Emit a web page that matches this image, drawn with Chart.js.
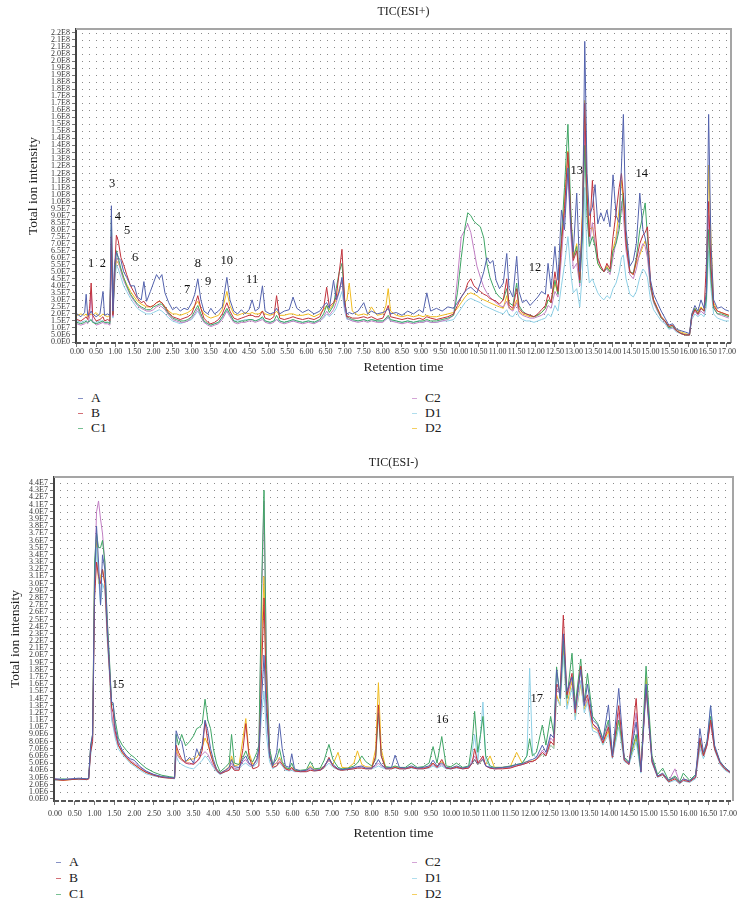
<!DOCTYPE html>
<html>
<head>
<meta charset="utf-8">
<script src="https://cdn.jsdelivr.net/npm/chart.js@4.4.0/dist/chart.umd.min.js"></script>
<style>
  body { margin: 0; background: #fff; width: 748px; height: 908px; position: relative; overflow: hidden;
         font-family: "Liberation Serif", "Times New Roman", serif; color: #222; }
  .panel { position: absolute; left: 0; width: 748px; }
  #topWrap { top: 0; height: 380px; }
  #botWrap { top: 445px; height: 400px; }
  .item { position: absolute; height: 16px; line-height: 16px; font-size: 13.5px; display: flex; align-items: center; white-space: nowrap; }
  .mark { display: inline-block; width: 5px; height: 1px; margin-right: 8px; opacity: 0.7; }
</style>
</head>
<body>
<div class="panel" id="topWrap"><canvas id="topChart"></canvas></div>
<div class="panel" id="botWrap"><canvas id="botChart"></canvas></div>
<script>
// sample names and colours
var seriesNames = ['A', 'B', 'C1', 'C2', 'D1', 'D2'];
var seriesColors = ['#5362ad', '#c1323c', '#3fa565', '#c27fc4', '#8fd0e6', '#f0bb1e'];

// x ticks (retention time, min)
var xTickLabels = ['0.00','0.50','1.00','1.50','2.00','2.50','3.00','3.50','4.00','4.50','5.00','5.50','6.00','6.50',
  '7.00','7.50','8.00','8.50','9.00','9.50','10.00','10.50','11.00','11.50','12.00','12.50','13.00','13.50',
  '14.00','14.50','15.00','15.50','16.00','16.50','17.00'];

// y ticks, TIC(ESI+) in units of 1E7, step 0.5
var yTopLabels = ['0.0E0','5.0E6','1.0E7','1.5E7','2.0E7','2.5E7','3.0E7','3.5E7','4.0E7','4.5E7','5.0E7','5.5E7',
  '6.0E7','6.5E7','7.0E7','7.5E7','8.0E7','8.5E7','9.0E7','9.5E7','1.0E8','1.0E8','1.1E8','1.1E8','1.2E8','1.2E8',
  '1.3E8','1.3E8','1.4E8','1.4E8','1.5E8','1.5E8','1.6E8','1.6E8','1.7E8','1.7E8','1.8E8','1.8E8','1.9E8','1.9E8',
  '2.0E8','2.0E8','2.1E8','2.1E8','2.2E8'];
// y ticks, TIC(ESI-) in units of 1E6, step 1
var yBotLabels = ['0.0E0','1.0E6','2.0E6','3.0E6','4.0E6','5.0E6','6.0E6','7.0E6','8.0E6','9.0E6','1.0E7','1.1E7',
  '1.2E7','1.3E7','1.4E7','1.5E7','1.6E7','1.7E7','1.8E7','1.9E7','2.0E7','2.1E7','2.2E7','2.3E7','2.4E7','2.5E7',
  '2.6E7','2.7E7','2.8E7','2.9E7','3.0E7','3.1E7','3.2E7','3.3E7','3.4E7','3.5E7','3.6E7','3.7E7','3.8E7','3.9E7',
  '4.0E7','4.1E7','4.2E7','4.3E7','4.4E7'];

// ---- TIC(ESI+) : intensity x1E7 ----
var topTimes = [
  0.00,0.10,0.20,0.24,0.28,0.33,0.37,0.41,0.50,0.60,
  0.68,0.72,0.80,0.86,0.90,0.94,0.98,1.03,1.08,1.15,
  1.22,1.30,1.40,1.50,1.58,1.68,1.75,1.82,1.92,2.00,
  2.08,2.15,2.22,2.30,2.40,2.50,2.60,2.70,2.80,2.90,
  3.00,3.08,3.16,3.24,3.32,3.42,3.50,3.60,3.70,3.80,
  3.92,4.00,4.10,4.20,4.30,4.40,4.50,4.58,4.66,4.76,
  4.85,4.92,5.05,5.15,5.22,5.30,5.42,5.55,5.65,5.75,
  5.90,6.05,6.20,6.35,6.45,6.53,6.60,6.71,6.78,6.86,
  6.93,7.00,7.06,7.12,7.20,7.35,7.50,7.60,7.70,7.85,
  8.00,8.08,8.14,8.20,8.35,8.50,8.65,8.80,8.95,9.05,
  9.15,9.25,9.40,9.55,9.70,9.85,9.95,10.05,10.15,10.22,
  10.30,10.38,10.46,10.55,10.64,10.72,10.80,10.88,10.96,11.05,
  11.15,11.24,11.30,11.40,11.50,11.56,11.65,11.75,11.85,11.95,
  12.05,12.15,12.25,12.32,12.40,12.50,12.58,12.67,12.75,12.84,
  12.92,12.98,13.07,13.15,13.22,13.28,13.34,13.40,13.48,13.55,
  13.62,13.70,13.78,13.86,13.94,14.02,14.10,14.18,14.24,14.29,
  14.36,14.46,14.55,14.63,14.72,14.80,14.86,14.92,15.00,15.08,
  15.18,15.28,15.38,15.48,15.58,15.68,15.80,15.92,16.02,16.08,
  16.16,16.24,16.32,16.40,16.46,16.52,16.58,16.65,16.75,16.85,
  16.95,17.05];
var topA = [
  2.0,1.8,2.1,3.4,1.9,2.0,2.2,2.0,1.8,2.0,
  3.6,1.9,2.0,1.9,9.7,2.2,5.5,6.4,6.0,5.8,
  5.0,4.6,4.0,4.0,3.2,3.0,4.3,2.9,3.6,4.2,
  4.8,4.5,4.8,3.5,2.8,2.3,2.5,2.2,2.4,2.3,
  2.8,3.4,4.5,3.0,2.2,2.0,2.4,2.0,2.2,2.5,
  4.6,3.0,2.2,2.0,2.3,2.0,2.3,3.0,2.2,2.4,
  4.0,2.2,2.0,2.1,2.4,2.0,2.2,2.3,3.2,2.4,
  2.1,2.3,2.0,2.2,2.6,2.8,2.4,4.4,3.0,3.6,
  4.6,2.6,2.0,2.1,2.0,2.2,2.8,2.0,2.2,2.0,
  2.1,2.2,2.4,2.0,2.1,1.9,2.2,2.0,2.3,2.1,
  3.5,2.2,2.4,2.2,2.5,2.4,2.8,3.2,3.6,3.8,
  3.9,3.7,3.5,4.2,5.0,6.0,5.6,5.8,4.4,3.8,
  4.2,6.3,3.8,3.2,6.1,3.6,2.8,3.0,2.6,2.9,
  3.2,3.6,3.4,5.6,3.8,6.8,4.4,9.4,8.0,12.4,
  8.0,6.4,10.6,5.0,8.0,21.4,12.0,9.0,9.6,11.2,
  8.4,9.2,8.6,9.4,8.2,11.9,9.0,8.5,12.5,16.2,
  8.0,5.4,5.8,7.0,10.6,8.0,7.4,6.5,4.4,3.4,
  2.8,2.2,1.7,1.2,1.3,0.9,0.8,0.7,0.6,2.0,
  2.6,2.2,3.0,2.4,3.5,16.2,7.0,3.0,2.4,2.5,
  2.3,2.2];
var topB = [
  1.6,1.5,1.7,1.8,1.6,2.4,4.2,1.9,1.5,1.6,
  1.8,1.5,1.6,1.5,7.5,1.9,5.0,7.6,7.2,6.0,
  5.5,4.8,4.0,3.5,3.1,2.8,2.9,2.6,2.5,2.6,
  2.8,2.9,2.8,2.5,2.1,1.8,1.7,1.6,1.7,1.8,
  2.0,2.6,3.3,2.4,1.7,1.4,1.3,1.4,1.6,2.0,
  2.8,2.2,1.7,1.6,1.7,1.8,1.9,1.9,1.8,1.8,
  2.2,1.7,1.6,1.8,3.3,1.7,1.6,1.7,1.8,1.7,
  1.6,1.7,1.6,1.8,2.4,3.9,2.5,2.8,3.2,5.0,
  6.6,3.0,1.8,1.8,1.7,1.7,1.8,1.7,1.8,1.6,
  1.7,2.2,2.6,1.8,1.7,1.6,1.7,1.6,1.7,1.6,
  1.8,1.7,1.6,1.7,1.8,2.0,2.6,3.2,3.6,4.2,
  4.5,4.0,3.8,3.6,3.4,3.3,3.1,3.0,2.9,2.7,
  3.0,4.5,2.6,2.4,3.8,2.4,2.1,2.0,1.9,1.8,
  2.0,2.3,2.6,3.4,2.8,5.0,3.6,7.0,9.5,13.5,
  8.5,5.8,6.5,4.4,9.0,17.0,10.5,7.5,11.5,8.0,
  6.0,5.4,5.0,5.6,5.2,7.5,9.2,11.0,12.0,10.5,
  7.0,5.0,4.8,5.8,7.0,7.6,7.8,8.2,4.2,3.0,
  2.4,1.8,1.5,1.1,1.2,0.8,0.6,0.5,0.5,1.8,
  2.3,2.0,2.4,2.2,5.5,10.0,5.5,2.6,2.2,2.1,
  2.0,1.9];
var topC1 = [
  1.4,1.3,1.4,1.5,1.4,1.5,1.6,1.4,1.3,1.4,
  1.5,1.4,1.4,1.3,8.8,2.0,4.5,6.5,6.0,5.2,
  4.6,4.0,3.4,3.0,2.7,2.5,2.4,2.3,2.3,2.5,
  2.6,2.7,2.7,2.4,2.0,1.7,1.6,1.5,1.5,1.6,
  1.8,2.2,2.6,2.0,1.5,1.3,1.2,1.3,1.4,1.8,
  2.4,2.0,1.5,1.4,1.5,1.5,1.6,1.6,1.5,1.6,
  1.8,1.5,1.4,1.5,1.9,1.5,1.4,1.5,1.6,1.5,
  1.4,1.5,1.4,1.6,2.0,2.6,2.1,2.6,3.8,5.0,
  5.6,3.0,1.8,1.7,1.6,1.5,1.6,1.5,1.6,1.5,
  1.5,1.7,1.9,1.6,1.5,1.4,1.5,1.4,1.5,1.5,
  1.6,1.5,1.5,1.6,1.7,1.9,3.5,6.0,8.2,9.2,
  9.0,8.6,8.4,8.2,7.4,5.6,4.6,4.0,3.5,3.2,
  3.0,3.8,2.8,2.6,4.2,2.6,2.2,2.0,1.9,1.8,
  1.9,2.1,2.4,3.0,2.8,4.4,3.4,7.5,11.0,15.5,
  9.0,6.0,6.8,4.2,7.5,14.0,9.0,6.8,7.5,6.8,
  5.6,5.2,5.0,5.3,5.0,6.5,7.0,8.0,9.5,10.6,
  7.5,5.0,4.9,6.0,8.0,9.0,9.9,7.5,4.0,2.9,
  2.3,1.7,1.5,1.0,1.1,0.8,0.6,0.5,0.5,1.9,
  2.4,2.0,2.4,2.2,3.0,8.0,4.5,2.4,2.0,2.0,
  1.9,1.8];
var topC2 = [
  1.3,1.2,1.3,1.4,1.3,1.8,3.6,1.5,1.2,1.3,
  1.4,1.3,1.3,1.2,6.5,1.8,4.2,6.0,5.8,5.0,
  4.4,3.9,3.3,2.9,2.6,2.4,2.3,2.2,2.2,2.3,
  2.5,2.6,2.5,2.3,1.9,1.6,1.5,1.4,1.4,1.5,
  1.7,2.0,2.4,1.8,1.4,1.2,1.1,1.2,1.3,1.6,
  2.2,1.8,1.4,1.3,1.4,1.4,1.5,1.5,1.4,1.5,
  1.6,1.4,1.3,1.4,1.6,1.4,1.3,1.4,1.5,1.4,
  1.3,1.4,1.3,1.5,1.8,2.2,1.9,2.3,2.8,3.6,
  4.4,2.4,1.7,1.6,1.5,1.4,1.5,1.4,1.5,1.4,
  1.4,1.6,1.8,1.5,1.4,1.3,1.4,1.3,1.4,1.4,
  1.5,1.4,1.4,1.5,1.6,1.9,4.5,7.5,8.0,8.4,
  7.8,6.6,5.4,4.6,3.9,3.5,3.2,3.0,2.8,2.6,
  2.5,2.9,2.4,2.2,2.8,2.1,1.9,1.8,1.7,1.7,
  1.8,1.9,2.1,2.6,2.4,3.6,3.2,6.0,9.0,12.0,
  7.5,5.2,5.6,4.0,8.0,15.0,9.5,7.0,8.5,7.0,
  5.8,5.4,5.0,5.2,4.8,6.0,7.2,8.5,10.0,9.0,
  6.5,4.8,4.5,5.2,6.4,7.0,6.8,6.0,3.8,2.8,
  2.2,1.7,1.4,1.0,1.0,0.8,0.6,0.5,0.5,1.8,
  2.2,1.9,2.2,2.0,3.2,9.0,5.0,2.5,2.0,1.9,
  1.8,1.7];
var topD1 = [
  1.5,1.4,1.5,1.5,1.4,1.5,1.6,1.4,1.4,1.5,
  1.5,1.4,1.4,1.4,6.0,1.7,4.0,5.5,5.2,4.6,
  4.0,3.6,3.1,2.7,2.4,2.2,2.1,2.0,2.0,2.1,
  2.2,2.3,2.2,2.0,1.7,1.5,1.4,1.3,1.4,1.5,
  1.6,1.9,2.2,1.8,1.4,1.3,1.2,1.3,1.4,1.7,
  2.3,1.9,1.5,1.5,1.5,1.6,1.6,1.6,1.5,1.6,
  1.7,1.5,1.4,1.5,1.6,1.5,1.4,1.5,1.5,1.5,
  1.4,1.5,1.4,1.5,1.7,2.0,1.8,2.1,2.4,3.0,
  3.6,2.2,1.6,1.6,1.5,1.5,1.6,1.5,1.6,1.5,
  1.5,1.6,1.7,1.5,1.5,1.4,1.5,1.4,1.5,1.4,
  1.5,1.4,1.4,1.5,1.5,1.6,2.0,2.4,2.8,3.0,
  3.1,3.0,2.9,2.8,2.6,2.5,2.4,2.3,2.2,2.1,
  2.0,2.3,1.9,1.8,2.2,1.8,1.6,1.5,1.5,1.4,
  1.5,1.6,1.7,2.0,1.8,2.6,2.2,4.0,5.5,7.5,
  4.8,3.5,3.8,2.5,5.0,11.0,6.0,4.2,4.5,4.0,
  3.5,3.2,3.0,3.3,3.1,3.8,4.2,5.0,6.0,6.2,
  4.5,3.4,3.2,3.6,4.6,5.2,5.0,4.6,3.0,2.3,
  1.9,1.5,1.3,0.9,1.0,0.7,0.6,0.5,0.5,1.6,
  2.0,1.8,2.0,1.8,2.5,6.5,3.8,2.0,1.7,1.6,
  1.5,1.5];
var topD2 = [
  1.9,2.0,1.9,2.0,1.8,1.9,2.0,1.9,2.1,1.8,
  2.0,1.9,1.8,1.9,6.5,2.3,4.8,5.8,5.6,5.2,
  4.6,4.1,3.6,3.2,2.9,2.7,2.6,2.5,2.5,2.6,
  2.8,2.9,2.8,2.5,2.2,2.0,2.0,1.9,2.0,2.1,
  2.3,2.6,2.9,2.4,2.0,1.8,1.7,1.8,1.9,2.3,
  3.6,2.6,2.0,1.9,2.0,2.1,2.0,2.1,2.0,2.0,
  2.2,2.0,1.9,2.0,2.2,1.9,1.9,2.0,2.0,1.9,
  1.9,2.0,1.8,2.0,2.3,2.6,2.3,2.7,3.0,3.8,
  4.4,2.8,3.0,4.2,2.2,1.9,2.0,1.9,2.5,1.9,
  2.0,2.6,3.8,2.2,1.9,1.8,1.9,1.8,1.9,1.8,
  1.9,1.8,1.8,1.9,2.0,2.1,2.4,2.8,3.2,3.4,
  3.5,3.4,3.3,3.1,3.0,2.9,2.8,2.7,2.6,2.5,
  2.4,3.3,2.4,2.3,3.0,2.2,2.0,1.9,1.8,1.8,
  1.9,2.1,2.4,3.0,2.8,4.2,3.4,7.0,10.0,13.6,
  8.8,6.0,7.0,4.5,9.5,17.2,11.0,8.0,8.2,7.0,
  5.6,5.2,5.0,5.4,5.0,6.6,7.5,9.5,11.5,10.0,
  7.0,5.0,4.8,5.6,6.2,6.8,7.2,6.4,4.0,3.0,
  2.4,1.8,1.5,1.1,1.2,0.9,0.7,0.6,0.5,2.0,
  2.4,2.1,2.5,2.2,3.5,12.6,7.5,2.8,2.2,2.1,
  2.0,1.9];

// ---- TIC(ESI-) : intensity x1E6 ----
var botTimes = [
  0.00,0.20,0.40,0.60,0.80,0.85,0.90,0.95,1.00,1.05,
  1.10,1.15,1.20,1.26,1.32,1.38,1.43,1.47,1.52,1.60,
  1.70,1.80,1.90,2.00,2.15,2.30,2.50,2.70,2.90,3.02,
  3.06,3.12,3.20,3.30,3.40,3.50,3.58,3.65,3.72,3.79,
  3.86,3.93,4.00,4.08,4.17,4.30,4.40,4.46,4.53,4.65,
  4.75,4.82,4.90,5.00,5.10,5.15,5.22,5.28,5.34,5.42,
  5.50,5.60,5.67,5.74,5.82,5.92,5.98,6.05,6.20,6.35,
  6.45,6.55,6.70,6.80,6.92,7.02,7.15,7.25,7.40,7.55,
  7.64,7.75,7.85,8.00,8.10,8.17,8.24,8.35,8.50,8.59,
  8.70,8.85,9.00,9.15,9.30,9.45,9.55,9.65,9.77,9.88,
  10.00,10.14,10.30,10.45,10.54,10.60,10.68,10.75,10.81,10.88,
  10.99,11.10,11.30,11.50,11.66,11.80,11.92,11.99,12.06,12.16,
  12.31,12.40,12.52,12.60,12.67,12.76,12.84,12.93,13.06,13.14,
  13.28,13.37,13.45,13.58,13.71,13.84,13.98,14.08,14.24,14.38,
  14.50,14.68,14.80,14.93,15.08,15.22,15.35,15.50,15.66,15.78,
  15.87,16.03,16.18,16.29,16.38,16.47,16.56,16.66,16.80,16.92,
  17.05];
var botA = [
  2.8,2.7,2.8,2.9,2.8,2.9,7.5,9.0,30.0,38.0,
  33.0,27.0,34.0,32.0,24.0,18.0,13.5,13.4,10.0,8.0,
  6.8,6.0,5.6,5.4,4.5,3.9,3.4,3.1,3.0,2.9,
  9.5,8.5,8.0,5.2,5.8,5.0,7.0,6.0,7.5,11.0,
  9.5,7.0,5.5,4.2,3.6,4.0,4.4,5.5,4.5,4.4,
  5.5,6.0,5.0,4.6,5.6,7.0,14.0,20.0,12.0,6.0,
  4.6,6.5,10.5,7.0,4.6,4.4,6.3,4.2,3.9,4.0,
  4.4,4.0,4.1,4.6,5.6,4.8,4.2,4.1,4.2,4.4,
  4.5,4.6,4.3,4.3,4.8,5.5,4.8,4.3,4.4,6.1,
  4.4,4.3,4.6,4.3,4.4,4.6,5.4,4.6,5.0,4.4,
  4.3,4.6,4.3,4.5,5.0,5.5,4.8,5.2,5.5,4.6,
  4.4,4.3,4.4,4.5,4.8,4.9,5.2,5.4,5.5,5.8,
  7.5,6.5,9.0,8.5,18.0,14.0,23.0,15.0,17.0,12.5,
  18.0,13.0,16.0,11.0,10.3,8.2,13.1,6.0,15.4,5.6,
  5.0,10.7,3.8,16.0,5.5,3.2,3.6,2.6,3.0,2.3,
  2.8,2.5,3.2,9.8,6.5,8.0,13.0,7.5,5.2,4.4,
  3.8];
var botB = [
  2.7,2.6,2.7,2.8,2.7,2.8,6.5,8.0,28.0,33.0,
  31.0,30.0,32.0,30.0,23.0,17.5,12.8,12.0,9.5,7.5,
  6.5,5.8,5.2,4.8,4.2,3.7,3.3,3.0,2.9,2.9,
  7.5,6.5,5.6,5.0,5.0,4.8,5.2,5.6,6.8,10.8,
  8.0,6.2,5.0,4.0,3.5,3.8,4.0,4.6,4.0,4.0,
  7.0,10.5,6.0,4.2,4.4,4.6,18.0,28.0,14.0,6.0,
  4.4,4.6,5.2,4.8,4.2,4.0,4.4,3.9,3.8,3.8,
  4.0,3.9,4.0,4.4,5.8,4.6,4.1,4.0,4.1,4.2,
  4.3,4.3,4.2,4.2,6.0,13.1,6.0,4.2,4.2,4.4,
  4.2,4.2,4.4,4.2,4.2,4.4,5.0,4.4,5.5,4.3,
  4.2,4.4,4.2,4.3,5.0,7.0,5.0,5.5,6.0,4.6,
  4.3,4.2,4.2,4.3,4.6,4.8,5.0,5.2,5.2,5.5,
  6.5,6.0,8.0,7.5,16.0,15.0,25.6,14.5,17.5,12.0,
  18.5,13.5,14.5,10.5,9.8,7.8,10.0,5.8,13.0,5.4,
  4.8,14.0,3.8,15.5,5.2,3.1,3.4,2.4,2.8,2.2,
  2.6,2.4,3.0,8.5,6.0,7.5,11.0,7.0,5.0,4.2,
  3.7];
var botC1 = [
  2.7,2.8,2.7,2.8,2.8,2.9,7.2,9.0,33.0,37.0,
  35.0,35.0,36.0,33.0,25.0,19.0,13.4,13.0,11.0,8.5,
  7.5,6.8,6.2,5.8,5.0,4.3,3.7,3.3,3.1,3.0,
  9.0,7.5,9.0,7.4,8.0,8.8,9.8,10.0,10.5,13.9,
  11.0,9.8,7.0,5.0,3.8,4.4,5.0,9.0,5.0,4.8,
  5.8,6.7,5.5,5.2,6.5,7.5,30.0,43.0,18.0,7.0,
  4.8,5.6,7.0,5.2,4.4,4.2,5.0,4.0,4.0,4.1,
  5.2,4.2,4.3,5.4,7.6,5.5,4.4,4.2,4.3,4.6,
  5.0,6.0,5.2,4.6,5.5,12.0,6.0,4.5,4.4,4.6,
  4.4,4.4,5.0,4.4,4.5,5.0,7.3,5.0,8.7,4.6,
  4.5,5.0,4.4,4.6,8.0,12.2,6.5,9.0,11.5,6.0,
  4.6,4.4,4.4,4.6,4.8,5.0,6.0,8.4,6.0,6.5,
  10.3,7.5,11.5,9.0,18.4,14.0,22.0,14.0,20.3,13.0,
  19.5,13.5,17.5,11.5,10.5,8.4,11.0,6.2,11.0,5.8,
  5.2,9.0,4.0,18.5,6.0,3.4,4.3,2.6,3.2,2.4,
  3.6,2.6,3.4,8.0,6.2,8.0,11.5,7.2,5.2,4.4,
  3.8];
var botC2 = [
  2.8,2.7,2.8,2.7,2.8,2.8,6.8,8.5,31.0,40.0,
  41.5,39.0,37.0,33.0,25.0,18.5,12.0,10.5,9.0,7.5,
  6.6,6.0,5.4,5.0,4.4,3.8,3.4,3.1,3.0,2.9,
  6.5,5.8,5.4,5.0,4.8,5.0,5.2,5.8,6.2,6.6,
  6.2,5.4,4.6,4.0,3.5,3.9,4.2,5.0,4.2,4.4,
  5.2,5.5,4.8,4.6,5.4,6.5,28.0,41.5,20.0,7.0,
  4.8,5.0,5.6,4.8,4.2,4.0,4.2,3.9,3.8,3.9,
  4.2,4.0,4.0,4.5,5.4,4.6,4.2,4.1,4.2,4.3,
  4.4,4.5,4.3,4.3,4.6,5.0,4.6,4.3,4.3,4.4,
  4.3,4.2,4.4,4.3,4.3,4.4,4.8,4.4,4.8,4.3,
  4.2,4.4,4.2,4.3,5.4,6.0,5.0,5.4,5.8,4.6,
  4.3,4.2,4.3,4.4,4.6,4.8,5.0,5.2,5.2,5.5,
  6.8,6.2,8.5,8.0,15.5,14.5,22.5,14.0,17.0,12.0,
  18.0,13.0,14.0,10.5,9.5,7.8,10.5,5.8,12.0,5.4,
  4.9,12.0,3.8,16.0,5.2,3.1,3.5,2.5,4.2,2.3,
  2.8,2.5,3.0,7.5,6.0,7.5,10.5,7.0,5.0,4.2,
  3.7];
var botD1 = [
  2.6,2.7,2.8,2.7,2.7,2.8,6.0,8.0,28.0,35.0,
  31.0,27.0,30.0,29.0,22.0,17.0,11.0,10.0,8.5,7.0,
  6.2,5.6,5.0,4.6,4.0,3.5,3.2,3.0,2.9,2.8,
  6.0,5.2,4.8,4.5,4.3,4.2,4.6,5.0,5.4,6.0,
  5.6,5.0,4.4,3.8,3.4,3.8,4.0,4.4,4.0,4.2,
  4.8,5.0,4.6,4.4,5.0,6.0,12.0,15.0,9.0,5.2,
  4.2,4.6,5.0,4.6,4.0,3.9,4.0,3.8,3.8,3.8,
  4.0,3.9,4.0,4.3,5.0,4.4,4.1,4.0,4.1,4.2,
  4.3,4.4,4.2,4.2,4.4,4.6,4.4,4.2,4.2,4.3,
  4.2,4.2,4.3,4.2,4.2,4.3,4.6,4.3,4.6,4.2,
  4.2,4.3,4.2,4.4,6.5,9.0,5.2,9.0,13.5,5.5,
  4.4,4.2,4.3,4.4,4.6,4.8,6.0,18.2,6.5,5.6,
  6.2,6.0,7.5,7.0,14.0,13.0,20.0,12.5,15.5,11.0,
  16.5,12.0,13.5,9.5,9.2,7.5,9.0,5.6,10.0,5.2,
  4.8,8.0,3.6,15.0,5.0,3.0,3.3,2.3,2.6,2.1,
  2.5,2.3,2.8,7.0,5.6,7.5,13.0,6.8,4.8,4.0,
  3.6];
var botD2 = [
  2.7,2.6,2.7,2.8,2.7,2.8,7.0,8.5,32.0,36.0,
  30.0,31.0,32.0,30.0,23.0,17.5,11.5,10.5,9.0,7.5,
  6.4,5.8,5.2,4.8,4.2,3.7,3.3,3.1,2.9,2.9,
  7.0,6.0,5.4,5.2,5.5,5.6,5.8,6.4,7.2,8.5,
  7.6,6.4,5.2,4.2,3.6,4.0,4.5,6.0,4.6,4.8,
  8.5,11.2,6.5,4.8,5.5,6.8,22.0,31.0,14.0,6.2,
  4.6,5.0,5.8,5.0,4.3,4.1,4.4,4.0,3.9,4.0,
  4.6,4.1,4.2,4.6,5.4,4.8,6.5,4.4,4.3,5.0,
  6.7,4.8,4.5,4.4,7.0,16.2,7.0,4.4,4.3,4.5,
  4.3,4.3,4.5,4.3,4.3,4.5,5.0,4.5,5.2,4.4,
  4.3,4.5,4.3,4.4,5.0,5.5,4.8,5.2,5.5,4.8,
  6.0,4.4,4.4,4.5,6.5,5.0,5.2,5.2,5.3,5.5,
  6.2,6.0,7.5,7.0,14.5,13.0,21.0,13.0,16.5,11.5,
  16.0,12.5,14.0,10.0,9.5,7.6,9.5,5.8,11.0,5.4,
  5.0,8.5,3.8,17.0,5.5,3.2,3.5,2.5,3.0,2.3,
  2.8,2.5,3.0,8.0,6.0,7.6,11.0,7.0,5.0,4.2,
  3.7];

// numbered peak annotations (time, intensity in panel units)
var topPeakText = ['1','2','3','4','5','6','7','8','9','10','11','12','13','14'];
var topPeakTime = [0.37, 0.68, 0.92, 1.07, 1.31, 1.52, 2.88, 3.16, 3.43, 3.92, 4.58, 11.98, 13.07, 14.77];
var topPeakVal  = [5.6, 5.6, 11.25, 8.9, 7.9, 6.0, 3.7, 5.6, 4.3, 5.8, 4.4, 5.3, 12.2, 12.0];
var botPeakText = ['15', '16', '17'];
var botPeakTime = [1.59, 9.78, 12.17];
var botPeakVal  = [15.9, 11.1, 13.9];

function makeDatasets(times, series) {
  return series.map(function (vals, k) {
    return {
      label: seriesNames[k],
      data: times.map(function (t, i) { return {x: t, y: vals[i]}; }),
      borderColor: seriesColors[k],
      backgroundColor: seriesColors[k],
      borderWidth: 1,
      pointRadius: 0,
      tension: 0,
      fill: false
    };
  });
}

// dotted grid rows, grey frame, dashed time axis, peak numbers
var decorPlugin = {
  id: 'decor',
  beforeDatasetsDraw: function (chart) {
    var ctx = chart.ctx, a = chart.chartArea, y = chart.scales.y;
    ctx.save();
    ctx.strokeStyle = '#8a8a8a';
    ctx.lineWidth = 1;
    ctx.setLineDash([1, 6]);
    y.ticks.forEach(function (t) {
      if (t.value === 0) return;
      var py = Math.round(y.getPixelForValue(t.value)) + 0.5;
      ctx.beginPath(); ctx.moveTo(a.left + 6, py); ctx.lineTo(a.right - 2, py); ctx.stroke();
    });
    ctx.setLineDash([]);
    ctx.strokeStyle = '#a5a5a5';
    ctx.lineWidth = 2;
    ctx.beginPath(); ctx.moveTo(a.left, a.top); ctx.lineTo(a.right, a.top); ctx.lineTo(a.right, a.bottom); ctx.stroke();
    ctx.restore();
  },
  afterDraw: function (chart, args, opts) {
    var ctx = chart.ctx, a = chart.chartArea, x = chart.scales.x, y = chart.scales.y;
    ctx.save();
    ctx.strokeStyle = '#555';
    ctx.lineWidth = 2;
    ctx.setLineDash([5, 2]);
    ctx.beginPath(); ctx.moveTo(a.left, a.bottom); ctx.lineTo(a.right, a.bottom); ctx.stroke();
    ctx.setLineDash([]);
    ctx.fillStyle = '#111';
    ctx.font = '12.5px "Liberation Serif", serif';
    ctx.textAlign = 'center';
    ctx.textBaseline = 'middle';
    opts.text.forEach(function (s, i) {
      ctx.fillText(s, x.getPixelForValue(opts.time[i]), y.getPixelForValue(opts.val[i]));
    });
    ctx.restore();
  }
};

function makeChart(id, cfg) {
  var serif = '"Liberation Serif", "Times New Roman", serif';
  return new Chart(document.getElementById(id), {
    type: 'line',
    data: { datasets: makeDatasets(cfg.times, cfg.series) },
    plugins: [decorPlugin],
    options: {
      responsive: true,
      maintainAspectRatio: false,
      animation: false,
      events: [],
      layout: { padding: cfg.padding },
      plugins: {
        legend: { display: false },
        tooltip: { enabled: false },
        title: {
          display: true, text: cfg.title, fullSize: false, color: '#222',
          font: { family: serif, size: 12, weight: 'normal' },
          padding: cfg.titlePad
        },
        decor: { text: cfg.peakText, time: cfg.peakTime, val: cfg.peakVal }
      },
      scales: {
        x: {
          type: 'linear', min: cfg.xMin, max: cfg.xMax,
          afterBuildTicks: function (s) { s.ticks = xTickLabels.map(function (l) { return {value: parseFloat(l)}; }); },
          afterFit: function (s) { s.height = cfg.xHeight; },
          ticks: {
            autoSkip: false, maxRotation: 0, minRotation: 0, padding: cfg.xTickPad, color: '#333',
            font: { family: serif, size: 8 },
            callback: function (v, i) { return xTickLabels[i]; }
          },
          grid: { drawOnChartArea: false, tickLength: 4, tickColor: '#777' },
          border: { display: false },
          title: { display: true, text: 'Retention time', color: '#222', padding: 0, font: { family: serif, size: 13.5 } }
        },
        y: {
          type: 'linear', min: cfg.yMin, max: cfg.yMax,
          afterBuildTicks: function (s) { s.ticks = cfg.yLabels.map(function (l, i) { return {value: i * cfg.yStep}; }); },
          afterFit: function (s) { s.width = cfg.yWidth; },
          ticks: {
            autoSkip: false, padding: 2, color: '#333',
            font: { family: serif, size: 8 },
            callback: function (v, i) { return cfg.yLabels[i]; }
          },
          grid: { drawOnChartArea: false, tickLength: 4, tickColor: '#777' },
          border: { display: true, color: '#444', width: 2 },
          title: { display: true, text: 'Total ion intensity', color: '#222', padding: 0, font: { family: serif, size: 13.5 } }
        }
      }
    }
  });
}

function addLegend(chart, cols, top, step) {
  chart.data.datasets.forEach(function (ds, i) {
    var item = document.createElement('div');
    item.className = 'item';
    item.style.left = cols[Math.floor(i / 3)] + 'px';
    item.style.top = (top + (i % 3) * step) + 'px';
    item.innerHTML = '<span class="mark" style="background:' + ds.borderColor + '"></span>' + ds.label;
    document.body.appendChild(item);
  });
}

var topChart = makeChart('topChart', {
  times: topTimes, series: [topA, topB, topC1, topC2, topD1, topD2],
  title: 'TIC(ESI+)', titlePad: { top: 5, bottom: 9.6 },
  padding: { left: 25, right: 17, top: 0, bottom: 4 },
  xMin: -0.026, xMax: 17.105, xHeight: 33, xTickPad: 0.5,
  yMin: -0.07, yMax: 22.28, yStep: 0.5, yLabels: yTopLabels, yWidth: 51,
  peakText: topPeakText, peakTime: topPeakTime, peakVal: topPeakVal
});
var botChart = makeChart('botChart', {
  times: botTimes, series: [botA, botB, botC1, botC2, botD1, botD2],
  title: 'TIC(ESI-)', titlePad: { top: 10.8, bottom: 6.8 },
  padding: { left: 7, right: 15, top: 0, bottom: 3 },
  xMin: -0.025, xMax: 17.126, xHeight: 41, xTickPad: 4.2,
  yMin: -0.28, yMax: 44.84, yStep: 1, yLabels: yBotLabels, yWidth: 47,
  peakText: botPeakText, peakTime: botPeakTime, peakVal: botPeakVal
});

addLegend(topChart, [78, 412], 390, 15);
addLegend(botChart, [56, 412], 854, 16);
</script>
</body>
</html>
